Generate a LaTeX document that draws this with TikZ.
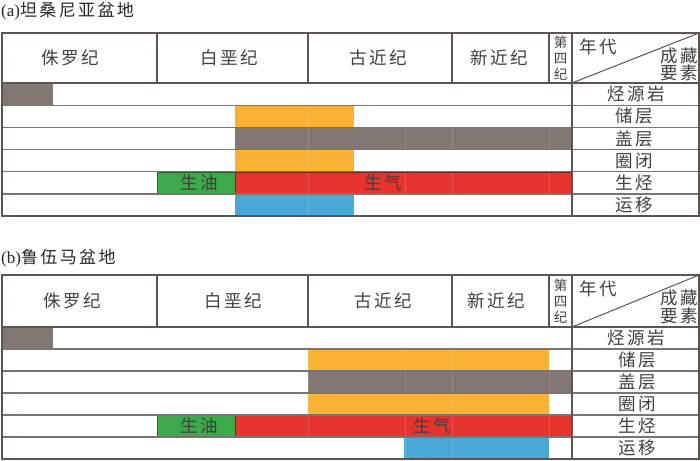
\documentclass[tikz,border=0pt]{standalone}
\usepackage{fontspec}
\setmainfont{Liberation Serif}
\newfontfamily\cjk[LetterSpace=14]{Noto Sans CJK SC}
\newfontfamily\cjkn{Noto Sans CJK SC}
\definecolor{frame}{HTML}{5E5552}
\definecolor{rowline}{HTML}{7A7472}
\definecolor{txt}{HTML}{404040}
\definecolor{cgray}{HTML}{827773}
\definecolor{corange}{HTML}{F9B233}
\definecolor{cred}{HTML}{E5332E}
\definecolor{cgreen}{HTML}{3CA94A}
\definecolor{cblue}{HTML}{4AA8D6}
\newcommand\cbar[5]{%
  \begin{scope}
    \clip (#1,#2) rectangle (#3,#4);
    \fill[#5] (#1,#2) rectangle (#3,#4);
    \foreach \xx in {308,405,452,549} \draw[white,opacity=0.15,line width=0.8] (\xx,#2) -- (\xx,#4);
  \end{scope}}
\tikzset{
  hd/.style={inner sep=0pt, text=txt, font=\fontsize{17.5}{19}\cjk},
  lbl/.style={inner sep=0pt, text=txt, font=\fontsize{17.5}{19}\cjk},
  small/.style={inner sep=0pt, text=txt, align=center, font=\fontsize{13.5}{16}\cjkn},
  ttl/.style={inner sep=0pt, anchor=west, text=black!85, font=\fontsize{17}{19}\selectfont},
  frm/.style={draw=frame, line width=1.3pt},
  rl/.style={draw=rowline, line width=1.3pt},
  outl/.style={line width=0.6pt}
}
\begin{document}
\begin{tikzpicture}[x=1pt,y=-1pt]
\useasboundingbox (0,0) rectangle (700,460);
% ================= Panel (a) =================
\node[ttl] (a-title) at (1,11) {(a){\cjk 坦桑尼亚盆地}};
% bars
\cbar{2}{83}{53}{105.2}{cgray}
\cbar{235}{105.2}{354}{127.4}{corange}
\cbar{235}{127.4}{572}{149.6}{cgray}
\cbar{235}{149.6}{354}{171.8}{corange}
\cbar{157}{171.8}{235}{194}{cgreen}
\cbar{235}{171.8}{572}{194}{cred}
\draw[outl,draw=cgreen!60!black] (157,171.8) rectangle (235,194);
\draw[outl,draw=cred!60!black] (235,171.8) rectangle (572,194);
\cbar{235}{194}{354}{216}{cblue}
% lines
\foreach \yy in {105.2,127.4,149.6,171.8,194} \draw[rl] (2,\yy) -- (699,\yy);
\draw[frm] (2,83) -- (699,83);
\draw[frm] (2,33) rectangle (699,216);
\foreach \xx in {157,308,452,549} \draw[frm] (\xx,33) -- (\xx,83);
\draw[frm] (572,33) -- (572,216);
\draw[frame,line width=1pt] (699,33) -- (572,83);
% header text
\node[hd] (a-j) at (70,58) {侏罗纪};
\node[hd] (a-k) at (229,58) {白垩纪};
\node[hd] (a-p) at (378,58) {古近纪};
\node[hd] (a-n) at (499,58) {新近纪};
\node[small] (a-q) at (560.5,58) {第\\四\\纪};
\node[hd] (a-nd) at (598,47) {年代};
\node[hd,anchor=east] (a-cz) at (698,56) {成藏};
\node[hd,anchor=east] (a-ys) at (698,73) {要素};
% row labels
\node[lbl] (a-r1) at (636,94.1) {烃源岩};
\node[lbl] (a-r2) at (634,116.3) {储层};
\node[lbl] (a-r3) at (634,138.5) {盖层};
\node[lbl] (a-r4) at (634,160.7) {圈闭};
\node[lbl] (a-r5) at (634,182.9) {生烃};
\node[lbl] (a-r6) at (634,205) {运移};
\node[lbl] (a-oil) at (199,182.9) {生油};
\node[lbl] (a-gas) at (383,182.9) {生气};
% ================= Panel (b) =================
\node[ttl] (b-title) at (1,258) {(b){\cjk 鲁伍马盆地}};
\cbar{2}{327}{53}{349}{cgray}
\cbar{308}{349}{549}{371}{corange}
\cbar{308}{371}{572}{393}{cgray}
\cbar{308}{393}{549}{415}{corange}
\cbar{157}{415}{235}{437}{cgreen}
\cbar{235}{415}{572}{437}{cred}
\draw[outl,draw=cgreen!60!black] (157,415) rectangle (235,437);
\draw[outl,draw=cred!60!black] (235,415) rectangle (572,437);
\cbar{404}{437}{549}{459}{cblue}
\foreach \yy in {349,371,393,415,437} \draw[rl] (2,\yy) -- (699,\yy);
\draw[frm] (2,327) -- (699,327);
\draw[frm] (2,275) rectangle (699,459);
\foreach \xx in {157,308,452,549} \draw[frm] (\xx,275) -- (\xx,327);
\draw[frm] (572,275) -- (572,459);
\draw[frame,line width=1pt] (699,275) -- (572,327);
\node[hd] (b-j) at (72,301) {侏罗纪};
\node[hd] (b-k) at (233,301) {白垩纪};
\node[hd] (b-p) at (383,301) {古近纪};
\node[hd] (b-n) at (496,301) {新近纪};
\node[small] (b-q) at (560.5,301) {第\\四\\纪};
\node[hd] (b-nd) at (598,289) {年代};
\node[hd,anchor=east] (b-cz) at (698,298) {成藏};
\node[hd,anchor=east] (b-ys) at (698,316) {要素};
\node[lbl] (b-r1) at (636,338) {烃源岩};
\node[lbl] (b-r2) at (637,360) {储层};
\node[lbl] (b-r3) at (637,382) {盖层};
\node[lbl] (b-r4) at (637,404) {圈闭};
\node[lbl] (b-r5) at (637,426) {生烃};
\node[lbl] (b-r6) at (637,448) {运移};
\node[lbl] (b-oil) at (199,426) {生油};
\node[lbl] (b-gas) at (432,426) {生气};
\end{tikzpicture}
\end{document}
